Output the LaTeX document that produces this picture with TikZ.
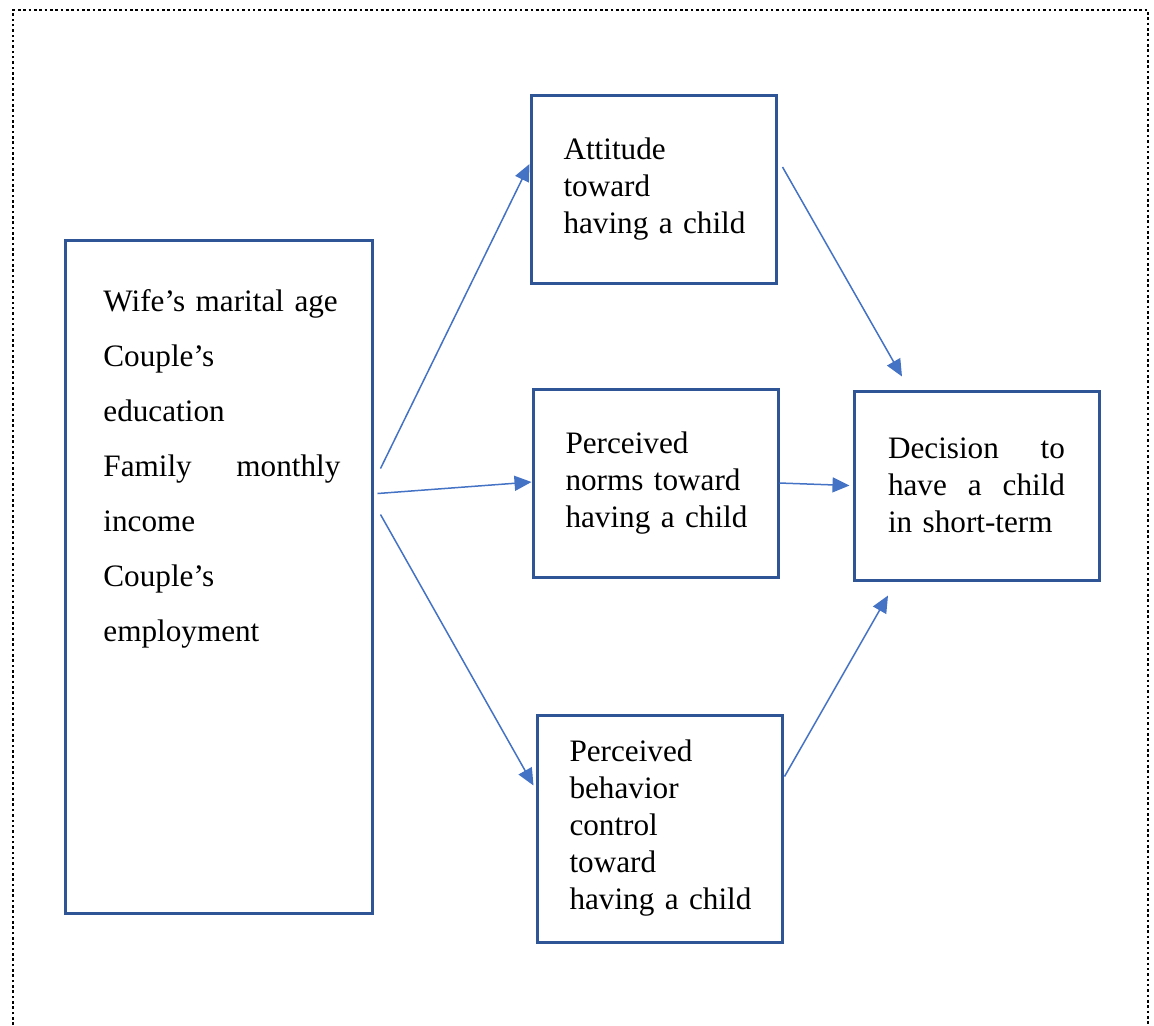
\documentclass[tikz,border=0pt]{standalone}
\usepackage{fontspec}
\setmainfont{Liberation Serif}
\usetikzlibrary{arrows.meta}

\definecolor{boxblue}{HTML}{2F5597}
\definecolor{arrowblue}{HTML}{4472C4}

\tikzset{
  box/.style={draw=boxblue, line width=1.5pt, minimum width=122.5pt, inner sep=0pt,
    text width=90pt, align=left, font=\fontsize{15.6}{18.5}\selectfont},
  flow/.style={draw=arrowblue, line width=0.75pt, -{Triangle[length=8.5pt,width=7.5pt]}},
  frame/.style={line width=1.4pt, dash pattern=on 1.3pt off 1.37pt}
}

\begin{document}
\begin{tikzpicture}[x=0.5pt,y=-0.5pt]

\useasboundingbox (0,0) rectangle (1154,1025);

\draw[frame] (13,1025) -- (13,10) -- (1148,10) -- (1148,1025);

\node[draw=boxblue, line width=1.5pt, minimum width=153.5pt, minimum height=336.5pt] (factors) at (218.5,576.5) {};

\node[anchor=north west, inner sep=0pt, text width=118.5pt, align=left, font=\fontsize{15.6}{27.5}\selectfont] (factorlist) at (103,289) {\mbox{Wife's marital age}\\ Couple's\\ education\\ Family\hfill monthly\\ income\\ Couple's\\ employment};

\node[box, minimum height=94pt] (att) at (653.5,189) {Attitude\\ toward\\ \mbox{having a child}};

\node[box, minimum height=94pt] (norms) at (655.5,483) {Perceived\\ \mbox{norms toward}\\ \mbox{having a child}};

\node[box, minimum height=113.5pt] (pbc) at (659.5,828.5) {Perceived\\ behavior\\ control\\ toward\\ \mbox{having a child}};

\node[box, minimum height=94.5pt, text width=88.5pt] (dec) at (976.5,485.5) {Decision\hfill to\\ have\hfill a\hfill child\\ \mbox{in short-term}\\[6pt]};

\draw[flow] ([shift={(7,-108)}]factors.east) -- ([shift={(0,-25)}]att.west);

\draw[flow] ([shift={(4,-83)}]factors.east) -- ([shift={(0,-1)}]norms.west);

\draw[flow] ([shift={(7,-62)}]factors.east) -- ([shift={(-2,-43)}]pbc.west);

\draw[flow] ([shift={(5,-22)}]att.east) -- ([shift={(-74.5,-13)}]dec.north);

\draw[flow] (norms.east) -- ([shift={(-3,0)}]dec.west);

\draw[flow] ([shift={(1,-52)}]pbc.east) -- ([shift={(-88.5,14)}]dec.south);

\end{tikzpicture}
\end{document}
